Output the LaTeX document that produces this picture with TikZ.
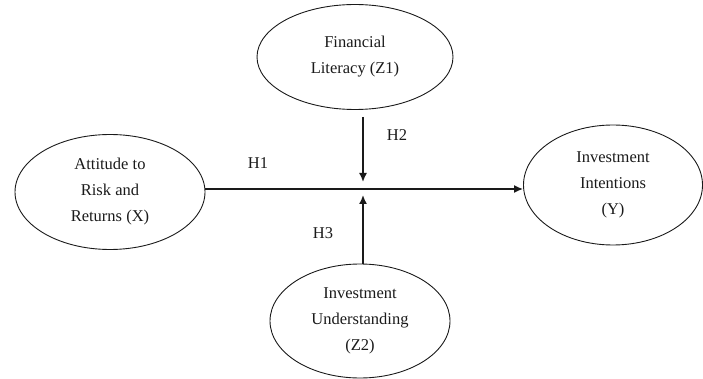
\documentclass[tikz,border=0pt]{standalone}
\usepackage{fontspec}
\setmainfont{Liberation Serif}
\usetikzlibrary{shapes.geometric,arrows.meta}
\definecolor{ink}{HTML}{1A1A1A}

\begin{document}
\begin{tikzpicture}[x=1pt,y=-1pt,font=\fontsize{16.5}{26}\selectfont,
    construct/.style={ellipse,draw=ink,line width=0.9pt,inner sep=0pt,align=center,text=ink},
    link/.style={draw=ink,line width=1.6pt,-{Latex[length=9pt,width=8pt]}}]
      \useasboundingbox (0,0) rectangle (703,379);
      % constructs of the model
      \node[construct,minimum width=190,minimum height=115] (att) at (110,192) {Attitude to\\Risk and\\Returns (X)};
      \node[construct,minimum width=196,minimum height=105] (lit) at (355,57) {Financial\\Literacy (Z1)};
      \node[construct,minimum width=179,minimum height=120] (intent) at (613,185) {Investment\\Intentions\\(Y)};
      \node[construct,minimum width=180,minimum height=114] (und) at (360,321) {Investment\\Understanding\\(Z2)};
      % moderation points on the main path
      \coordinate (mainy) at (0,189);
      \coordinate (modtop) at (363,182);
      \coordinate (modbot) at (363,195);
      \draw[link] (att.east |- mainy) -- (intent.west |- mainy);
      \draw[link,shorten <=7pt] (lit.south -| modtop) -- (modtop);
      \draw[link] (und.north -| modbot) -- (modbot);
      \node[text=ink] (h1) at (258,163) {H1};
      \node[text=ink] (h2) at (397,135) {H2};
      \node[text=ink] (h3) at (323,233) {H3};
    \end{tikzpicture}
\end{document}
